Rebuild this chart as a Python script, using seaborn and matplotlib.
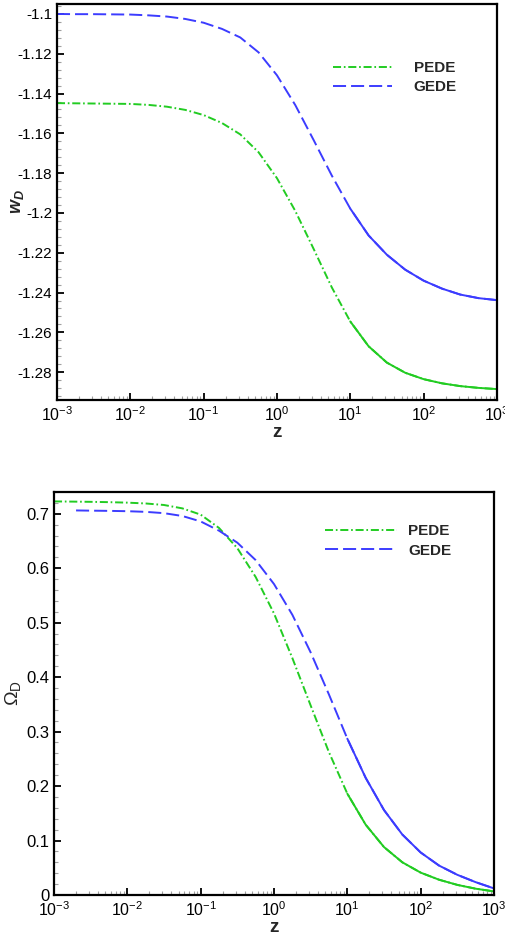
import numpy as np
import pandas as pd
import seaborn as sns
import matplotlib.pyplot as plt
from matplotlib.ticker import MultipleLocator, LogLocator, FuncFormatter, NullFormatter
plt.switch_backend('agg')

# redshift grid (values read at quarter-decade steps)
z_grid = [0.001, 0.00178, 0.00316, 0.00562, 0.01, 0.0178, 0.0316, 0.0562, 0.1,
          0.178, 0.316, 0.562, 1.0, 1.78, 3.16, 5.62, 10.0, 17.8, 31.6, 56.2,
          100.0, 178.0, 316.0, 562.0, 1000.0]

# top panel: equation of state w_D
w_pede = [-1.1448, -1.1449, -1.1450, -1.1451, -1.1452, -1.1457, -1.1466, -1.1482,
          -1.1508, -1.1548, -1.1605, -1.1695, -1.1825, -1.1990, -1.2180, -1.2375,
          -1.2545, -1.2670, -1.2752, -1.2803, -1.2835, -1.2856, -1.2870, -1.2879,
          -1.2885]
w_gede = [-1.1000, -1.1001, -1.1001, -1.1002, -1.1003, -1.1007, -1.1013, -1.1025,
          -1.1044, -1.1075, -1.1118, -1.1193, -1.1308, -1.1458, -1.1633, -1.1813,
          -1.1978, -1.2113, -1.2210, -1.2285, -1.2340, -1.2380, -1.2410, -1.2428,
          -1.2438]

# bottom panel: density parameter Omega_D
om_pede = [0.7228, 0.7224, 0.7220, 0.7214, 0.7205, 0.7190, 0.7162, 0.7100, 0.6985,
           0.6740, 0.6370, 0.5840, 0.5170, 0.4350, 0.3480, 0.2620, 0.1860, 0.1290,
           0.0880, 0.0600, 0.0410, 0.0280, 0.0185, 0.0115, 0.0065]
z_om_gede = [0.002, 0.00316, 0.00562, 0.01, 0.0178, 0.0316, 0.0562, 0.1, 0.178,
             0.316, 0.562, 1.0, 1.78, 3.16, 5.62, 10.0, 17.8, 31.6, 56.2, 100.0,
             178.0, 316.0, 562.0, 1000.0]
om_gede = [0.7062, 0.7058, 0.7054, 0.7048, 0.7036, 0.7012, 0.6960, 0.6860, 0.6690,
           0.6470, 0.6150, 0.5710, 0.5145, 0.4455, 0.3680, 0.2870, 0.2150, 0.1560,
           0.1110, 0.0780, 0.0540, 0.0370, 0.0235, 0.0120]

GREEN = '#22cc22'
BLUE = '#3c3cff'
LS_PEDE = (0, (5.8, 2.0, 1.2, 2.0))
LS_GEDE = (0, (9.4, 3.6))

sns.set_theme(style='ticks')
plt.rcParams['font.family'] = ['Liberation Sans', 'DejaVu Sans']
plt.rcParams['mathtext.fontset'] = 'custom'
plt.rcParams['mathtext.rm'] = 'Liberation Sans'
plt.rcParams['mathtext.it'] = 'Liberation Sans:italic:bold'
plt.rcParams['mathtext.bf'] = 'Liberation Sans:bold'
plt.rcParams['lines.scale_dashes'] = False


def draw_curve(ax, z, y, color, ls, label, z_solid):
    df = pd.DataFrame({'z': z, 'y': y})
    sns.lineplot(data=df, x='z', y='y', ax=ax, color=color, lw=1.4,
                 linestyle=ls, label=label, legend=False)
    # the original renders the steep tail as a solid line
    tail = df[df['z'] >= z_solid]
    sns.lineplot(data=tail, x='z', y='y', ax=ax, color=color, lw=1.4,
                 linestyle='-', legend=False)


def style_axis(ax, ymin, ymax, major, minor, fmt, ysize):
    ax.set_xscale('log')
    ax.set_xlim(1e-3, 1e3)
    ax.set_ylim(ymin, ymax)
    ax.xaxis.set_major_locator(LogLocator(base=10, numticks=10))
    ax.xaxis.set_minor_locator(LogLocator(base=10, subs=np.arange(2, 10), numticks=20))
    ax.xaxis.set_minor_formatter(NullFormatter())
    ax.yaxis.set_major_locator(MultipleLocator(major))
    ax.yaxis.set_minor_locator(MultipleLocator(minor))
    ax.yaxis.set_major_formatter(FuncFormatter(fmt))
    ax.tick_params(which='both', direction='in', top=False, right=False,
                   colors='black', pad=3.5)
    ax.tick_params(axis='x', labelsize=11.5)
    ax.tick_params(axis='y', labelsize=ysize)
    ax.tick_params(which='major', length=5, width=1.3)
    ax.tick_params(which='minor', length=2.8, width=0.8, color='#a0a0a0')
    for sp in ax.spines.values():
        sp.set_linewidth(1.6)
        sp.set_color('black')
    ax.set_xlabel('z', fontsize=13.5, fontweight='bold', labelpad=0)


fig = plt.figure(figsize=(5.06, 9.34), dpi=100)

# top panel
ax1 = fig.add_axes([0.1126, 0.5717, 0.8694, 0.424])
draw_curve(ax1, z_grid, w_pede, GREEN, LS_PEDE, 'PEDE', 6.8)
draw_curve(ax1, z_grid, w_gede, BLUE, LS_GEDE, 'GEDE', 6.6)
style_axis(ax1, -1.294, -1.095, 0.02, 0.004, lambda v, _: '%g' % round(v, 4), 11)
ax1.set_ylabel('$w_D$', fontsize=13, rotation=90)
ax1.yaxis.set_label_coords(-0.07, 0.5)
ax1.legend(loc='upper left', bbox_to_anchor=(0.627, 0.856), frameon=False,
           borderpad=0, borderaxespad=0, handlelength=3.9, handletextpad=1.4,
           labelspacing=0.35, prop={'weight': 'bold', 'size': 11})

# bottom panel
ax2 = fig.add_axes([0.1067, 0.0418, 0.8696, 0.4314])
draw_curve(ax2, z_grid, om_pede, GREEN, LS_PEDE, 'PEDE', 9.5)
draw_curve(ax2, z_om_gede, om_gede, BLUE, LS_GEDE, 'GEDE', 7.0)
style_axis(ax2, 0, 0.74, 0.1, 0.02, lambda v, _: '%g' % round(v, 3), 12)
ax2.set_ylabel('Ω$_\\mathrm{D}$', fontsize=14, rotation=90)
ax2.yaxis.set_label_coords(-0.07, 0.5)
ax2.legend(loc='upper left', bbox_to_anchor=(0.616, 0.92), frameon=False,
           borderpad=0, borderaxespad=0, handlelength=4.7, handletextpad=0.75,
           labelspacing=0.35, prop={'weight': 'bold', 'size': 11})

fig.savefig('out.png', dpi=100)
